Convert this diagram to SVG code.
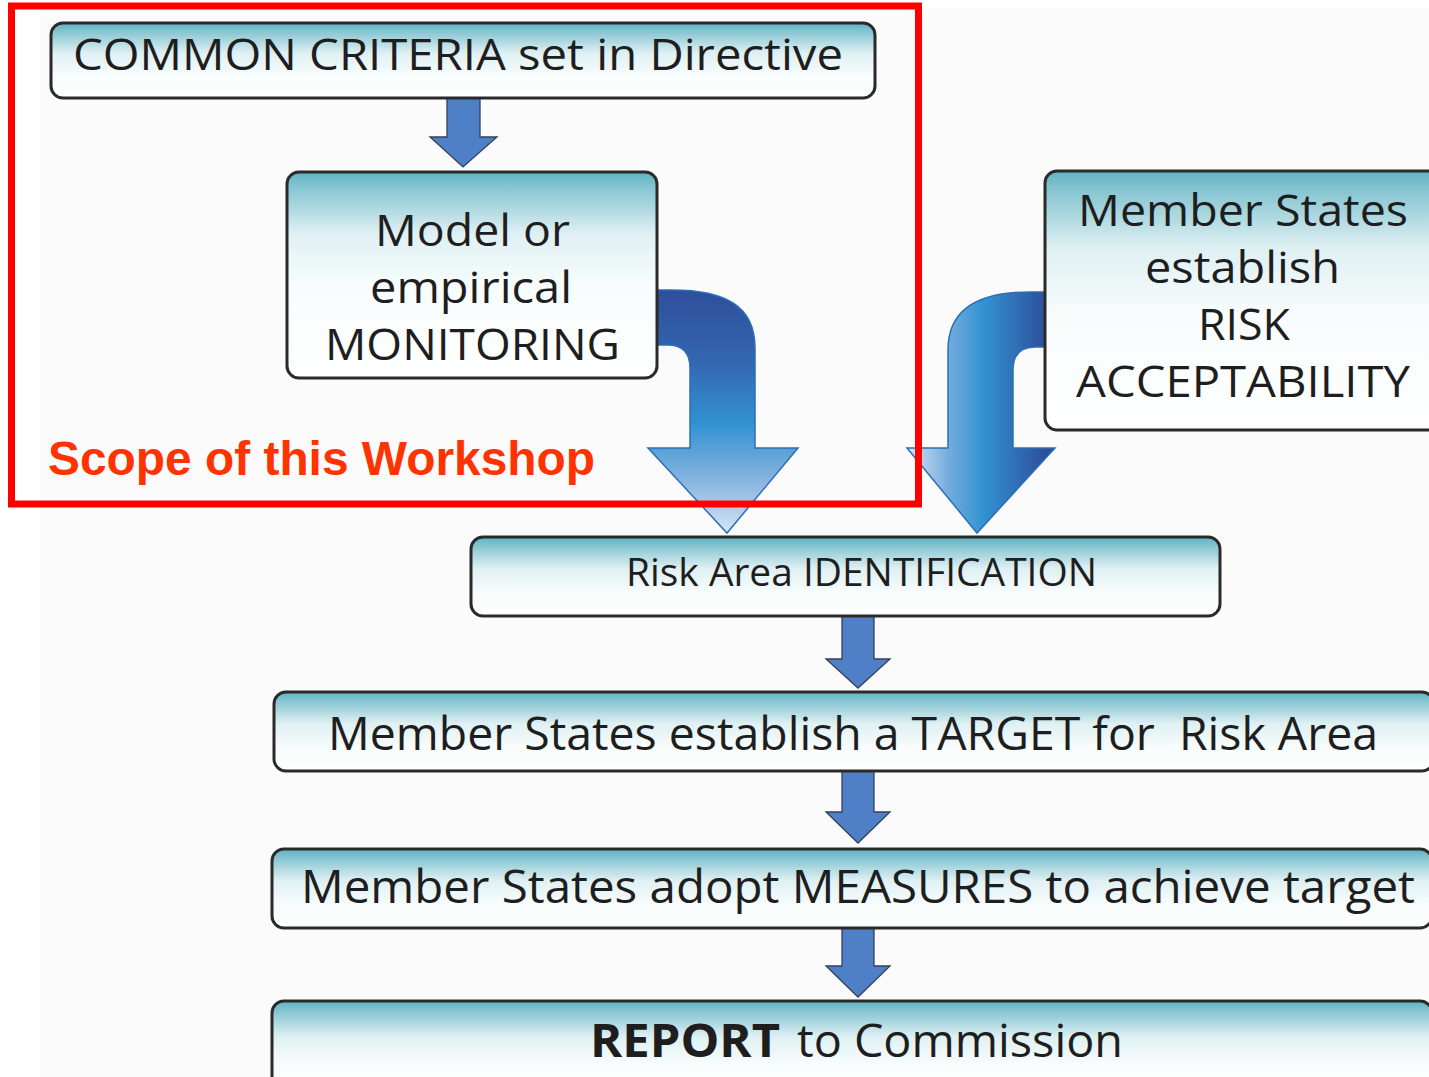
<svg xmlns="http://www.w3.org/2000/svg" width="1429" height="1077" viewBox="0 0 1429 1077">
<defs>
<linearGradient id="boxg" x1="0" y1="0" x2="0" y2="1">
<stop offset="0" stop-color="#5fb2c3"/>
<stop offset="0.12" stop-color="#88c6d2"/>
<stop offset="0.4" stop-color="#dff0f3"/>
<stop offset="0.7" stop-color="#f8fcfc"/>
<stop offset="1" stop-color="#ffffff"/>
</linearGradient>
<linearGradient id="boxgTall" x1="0" y1="0" x2="0" y2="1">
<stop offset="0" stop-color="#5fb2c3"/>
<stop offset="0.08" stop-color="#88c6d2"/>
<stop offset="0.3" stop-color="#dff0f3"/>
<stop offset="0.55" stop-color="#f8fcfc"/>
<stop offset="1" stop-color="#ffffff"/>
</linearGradient>
<linearGradient id="arrowV" gradientUnits="userSpaceOnUse" x1="0" y1="290" x2="0" y2="533">
<stop offset="0" stop-color="#2e4e9b"/>
<stop offset="0.3" stop-color="#3467b0"/>
<stop offset="0.55" stop-color="#3192d2"/>
<stop offset="0.78" stop-color="#86b3df"/>
<stop offset="1" stop-color="#d6e5f4"/>
</linearGradient>
<linearGradient id="arrowH" gradientUnits="userSpaceOnUse" x1="907" y1="0" x2="1047" y2="0">
<stop offset="0" stop-color="#d6e5f4"/>
<stop offset="0.3" stop-color="#72acdd"/>
<stop offset="0.55" stop-color="#3192d2"/>
<stop offset="1" stop-color="#2e4e9b"/>
</linearGradient>
</defs>
<style>
.box{stroke:#2a2a2a;stroke-width:3}
.t{font-family:"Open Sans","Noto Sans","DejaVu Sans",sans-serif;fill:#1e1e1e;white-space:pre}
.small{fill:#4f7fc6;stroke:#34405c;stroke-width:1.3;stroke-linejoin:miter}
.big{stroke:#2a6fb8;stroke-width:1.5;stroke-linejoin:miter}
</style>
<rect x="0" y="0" width="1429" height="1077" fill="#ffffff"/>
<rect x="40" y="8" width="1389" height="1069" fill="#fbfbfb"/>

<g id="connectors">
<path class="small" d="M447 96 L480 96 L480 137 L497 137 L463 167 L430 137 L447 137 Z"/>
<path class="big" fill="url(#arrowV)" d="M655 290 L672 290 C725 290 755 306 755 348 L755 448 L798 448 L727 533 L648 448 L690 448 L690 368 Q690 345 668 345 L655 345 Z"/>
<path class="big" fill="url(#arrowH)" d="M1047 292 L1030 292 C977 292 948 310 948 350 L948 448 L907 448 L977 533 L1055 448 L1013 448 L1013 370 Q1013 347 1035 347 L1047 347 Z"/>
<path class="small" d="M842 615 L874 615 L874 659 L890 659 L858 688 L826 659 L842 659 Z"/>
<path class="small" d="M842 770 L874 770 L874 812 L890 812 L858 843 L826 812 L842 812 Z"/>
<path class="small" d="M842 927 L874 927 L874 966 L890 966 L858 997 L826 966 L842 966 Z"/>
</g>

<g id="node-common-criteria">
<rect class="box" x="51" y="23" width="824" height="75" rx="12" fill="url(#boxg)"/>
<text class="t" x="73" y="70" font-size="44" textLength="770" lengthAdjust="spacingAndGlyphs">COMMON CRITERIA set in Directive</text>
</g>

<g id="node-monitoring">
<rect class="box" x="287" y="172" width="370" height="206" rx="12" fill="url(#boxgTall)"/>
<text class="t" x="375" y="246" font-size="44" textLength="195" lengthAdjust="spacingAndGlyphs">Model or</text>
<text class="t" x="370" y="303" font-size="44" textLength="202" lengthAdjust="spacingAndGlyphs">empirical</text>
<text class="t" x="325" y="360" font-size="44" textLength="295" lengthAdjust="spacingAndGlyphs">MONITORING</text>
</g>

<g id="node-risk-acceptability">
<rect class="box" x="1045" y="171" width="400" height="259" rx="12" fill="url(#boxgTall)"/>
<text class="t" x="1078" y="226" font-size="44" textLength="330" lengthAdjust="spacingAndGlyphs">Member States</text>
<text class="t" x="1145" y="283" font-size="44" textLength="195" lengthAdjust="spacingAndGlyphs">establish</text>
<text class="t" x="1198" y="340" font-size="44" textLength="92" lengthAdjust="spacingAndGlyphs">RISK</text>
<text class="t" x="1076" y="397" font-size="44" textLength="334" lengthAdjust="spacingAndGlyphs">ACCEPTABILITY</text>
</g>

<g id="node-risk-area">
<rect class="box" x="471" y="537" width="749" height="79" rx="12" fill="url(#boxg)"/>
<text class="t" x="626" y="586" font-size="38" textLength="471" lengthAdjust="spacingAndGlyphs">Risk Area IDENTIFICATION</text>
</g>

<g id="node-target">
<rect class="box" x="274" y="692" width="1160" height="79" rx="12" fill="url(#boxg)"/>
<text class="t" x="328" y="750" font-size="46" textLength="1050" lengthAdjust="spacingAndGlyphs">Member States establish a TARGET for  Risk Area</text>
</g>

<g id="node-measures">
<rect class="box" x="272" y="849" width="1160" height="79" rx="12" fill="url(#boxg)"/>
<text class="t" x="301" y="903" font-size="46" textLength="1114" lengthAdjust="spacingAndGlyphs">Member States adopt MEASURES to achieve target</text>
</g>

<g id="node-report">
<rect class="box" x="272" y="1001" width="1160" height="90" rx="12" fill="url(#boxg)"/>
<text class="t" x="590" y="1057" font-size="46" font-weight="bold" textLength="190" lengthAdjust="spacingAndGlyphs">REPORT</text>
<text class="t" x="797" y="1057" font-size="46" textLength="326" lengthAdjust="spacingAndGlyphs">to Commission</text>
</g>

<g id="scope">
<rect x="11.5" y="6" width="907" height="498" fill="none" stroke="#ff0000" stroke-width="7"/>
<text x="48" y="475" font-family="'Liberation Sans',Arial,sans-serif" font-weight="bold" font-size="48" fill="#ff3300" textLength="547" lengthAdjust="spacingAndGlyphs">Scope of this Workshop</text>
</g>
</svg>
